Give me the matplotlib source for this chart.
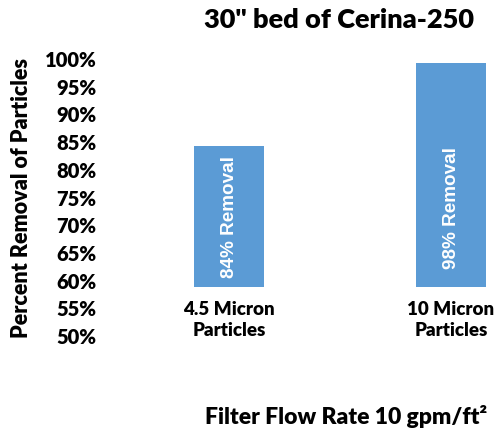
import matplotlib.pyplot as plt
import numpy as np

# data
categories = ["4.5 Micron\nParticles", "10 Micron\nParticles"]
bar_top = [84.3, 99.3]
bar_base = [58.8, 58.8]
bar_text = ["84% Removal", "98% Removal"]
text_y = [71.4, 73.1]
yticks = list(range(50, 101, 5))

plt.rcParams['font.family'] = ['Lato', 'DejaVu Sans']
plt.rcParams['font.weight'] = 'bold'

fig = plt.figure(figsize=(5, 4.32), dpi=100)
ax = fig.add_axes([105 / 500, 1 - 336 / 432, 395 / 500, 277 / 432])

x = np.arange(len(categories))
heights = [t - b for t, b in zip(bar_top, bar_base)]
ax.bar(x, heights, bottom=bar_base, width=0.315, color="#5B9BD5")

for xi, yi, s in zip(x, text_y, bar_text):
    ax.text(xi, yi, s, rotation=90, ha="center", va="center", color="white",
            fontsize=13.6, fontweight="bold", family="Liberation Sans")

ax.set_xlim(-0.5586, 1.2207)
ax.set_ylim(50, 100)
ax.set_yticks(yticks)
ax.set_yticklabels([f"{v}%" for v in yticks], fontsize=14.5, fontweight="heavy")
ax.set_xticks(x)
ax.set_xticklabels(categories, fontsize=13.5, fontweight="heavy", linespacing=1.3)
ax.tick_params(axis="y", length=0, pad=6)
ax.tick_params(axis="x", length=0, pad=-25)
for sp in ax.spines.values():
    sp.set_visible(False)

ax.set_ylabel("Percent Removal of Particles", fontsize=15.5, fontweight="heavy")
ax.yaxis.set_label_coords(-0.185, 0.5)

fig.text(339 / 500, 1 - 20 / 432, "30\" bed of Cerina-250", ha="center", va="center",
         fontsize=19.5, fontweight="heavy")
fig.text(346 / 500, 1 - 417 / 432, "Filter Flow Rate 10 gpm/ft²", ha="center", va="center",
         fontsize=16.5, fontweight="heavy")

fig.savefig("out.png", dpi=100)
